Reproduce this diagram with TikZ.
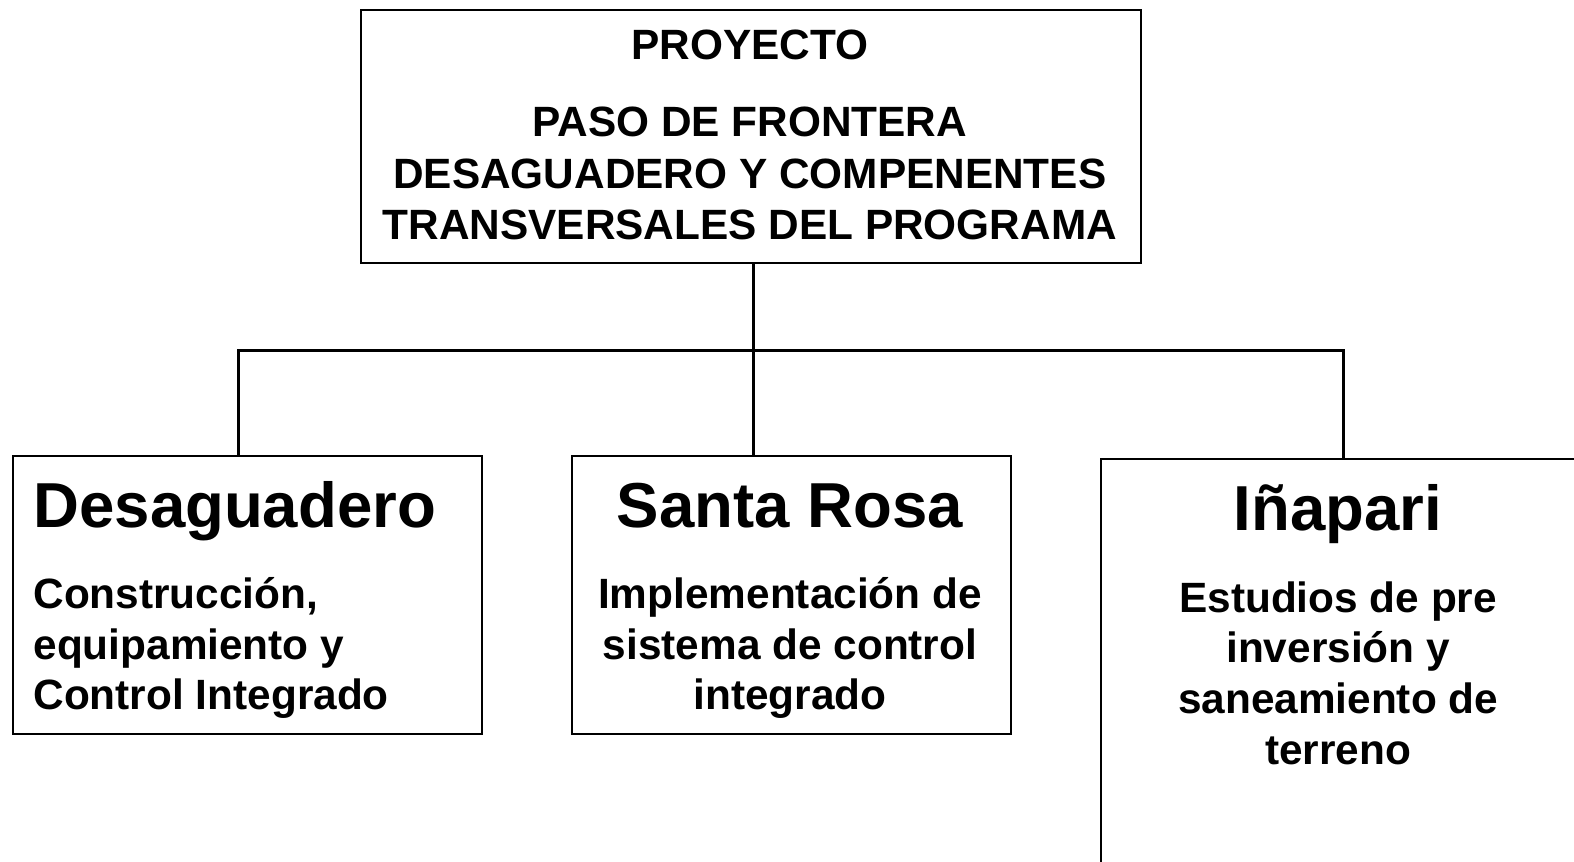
\documentclass[tikz,border=0pt]{standalone}
\usepackage{fontspec}
\setmainfont{Liberation Sans}
\usetikzlibrary{positioning}
\newlength\pxu
\setlength\pxu{0.019986cm}

\begin{document}
\begin{tikzpicture}
[x=\pxu, y=-\pxu,%
  boxframe/.style={draw, line width=1.1pt, inner sep=0pt, anchor=north west},%
  linkline/.style={-, line width=1.7pt},%
  titletext/.style={font=\bfseries\fontsize{24}{29.2}\selectfont, align=center, inner sep=0pt},%
  headtext/.style={font=\bfseries\fontsize{36}{40}\selectfont, inner sep=0pt},%
  bodytext/.style={font=\bfseries\fontsize{24}{28.7}\selectfont, inner sep=0pt}]
\useasboundingbox (0,0) rectangle (1568,858);
\clip (0,0) rectangle (1568,858);
%% boxes
\node (proj) at (359,9) [boxframe, minimum width=777\pxu, minimum height=252\pxu] {};
\node (desa) at (12,453.5) [boxframe, minimum width=467\pxu, minimum height=277\pxu] {};
\node (santa) at (569,453.5) [boxframe, minimum width=437\pxu, minimum height=277\pxu] {};
\node (inap) at (1096,456.5) [boxframe, minimum width=600\pxu, minimum height=500\pxu] {};
%% texts
\node (projLabel) at (747,45) [titletext] {PROYECTO};
\node (projName) at (747,173) [titletext] {PASO DE FRONTERA\\DESAGUADERO Y COMPENENTES\\TRANSVERSALES DEL PROGRAMA};
\node (desaHead) at (33,525) [headtext, anchor=base west] {Desaguadero};
\node (desaBody) at (33,575) [bodytext, anchor=north west, align=left] {Construcción,\\equipamiento y\\Control Integrado};
\node (santaHead) at (787,525) [headtext, anchor=base] {Santa Rosa};
\node (santaBody) at (787,575) [bodytext, anchor=north, align=center] {Implementación de\\sistema de control\\integrado};
\node (inapHead) at (1333,528) [headtext, anchor=base] {Iñapari};
\node (inapBody) at (1333,579) [bodytext, anchor=north, align=center] {Estudios de pre\\inversión y\\saneamiento de\\terreno};
%% connectors
\coordinate (busL) at (238,349);
\coordinate (busR) at (1338,349);
\draw[linkline] ([xshift=2.5\pxu]proj.south) -- ([xshift=2.5\pxu]proj.south |- santa.north);
\draw[linkline] (busL |- desa.north) -- (busL) -- (busR) -- (busR |- inap.north);
\end{tikzpicture}
\end{document}
